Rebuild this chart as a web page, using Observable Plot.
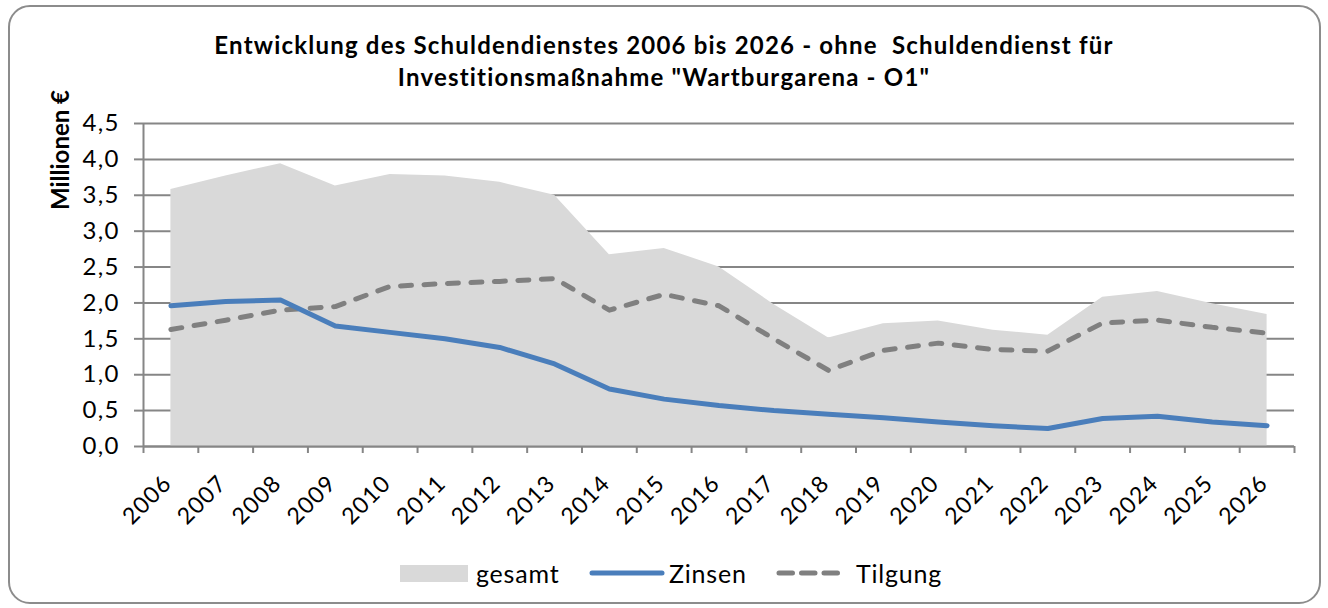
<!DOCTYPE html>
<html>
<head>
<meta charset="utf-8">
<script src="https://cdn.jsdelivr.net/npm/d3@7"></script>
<script src="https://cdn.jsdelivr.net/npm/@observablehq/plot@0.6"></script>
<style>
  html, body { margin: 0; padding: 0; background: #fff; }
  body { width: 1328px; height: 608px; position: relative; overflow: hidden; font-family: Lato, "Open Sans", sans-serif; }
  #frame { position: absolute; left: 8px; top: 5px; width: 1309px; height: 595px; border: 2px solid #8c8c8c; border-radius: 22px; box-sizing: content-box; }
  #title { position: absolute; left: 0; top: 29px; width: 1328px; text-align: center; font-weight: bold; font-size: 24px; letter-spacing: 1.2px; line-height: 32.4px; color: #000; }
  #ylabel { position: absolute; left: 59px; top: 150px; transform: translate(-50%, -50%) rotate(-90deg); font-weight: bold; font-size: 24px; white-space: nowrap; color: #000; }
  #chart { position: absolute; left: 0; top: 100px; }
  #legend { position: absolute; top: 558px; left: 0; width: 1328px; height: 30px; font-size: 25px; letter-spacing: 0.8px; color: #000; }
  .item { position: absolute; top: 0; height: 30px; display: flex; align-items: center; }
  .item svg { display: block; }
</style>
</head>
<body>
<div id="frame"></div>
<div id="title">Entwicklung des Schuldendienstes 2006 bis 2026 - ohne&nbsp; Schuldendienst für<br>Investitionsmaßnahme "Wartburgarena - O1"</div>
<div id="ylabel">Millionen €</div>
<div id="chart"></div>
<div id="legend"></div>
<script>
const years = [2006, 2007, 2008, 2009, 2010, 2011, 2012, 2013, 2014, 2015, 2016, 2017, 2018, 2019, 2020, 2021, 2022, 2023, 2024, 2025, 2026];
const gesamt = [3.58, 3.77, 3.94, 3.63, 3.79, 3.77, 3.68, 3.50, 2.67, 2.76, 2.50, 1.98, 1.51, 1.71, 1.75, 1.62, 1.55, 2.08, 2.16, 1.99, 1.84];
const zinsen = [1.96, 2.02, 2.04, 1.68, 1.59, 1.50, 1.38, 1.15, 0.80, 0.66, 0.57, 0.50, 0.45, 0.40, 0.34, 0.29, 0.25, 0.39, 0.42, 0.34, 0.29];
const tilgung = [1.63, 1.76, 1.90, 1.95, 2.23, 2.27, 2.30, 2.34, 1.90, 2.12, 1.96, 1.50, 1.06, 1.34, 1.44, 1.35, 1.33, 1.72, 1.76, 1.66, 1.58];
const yTicks = [0, 0.5, 1, 1.5, 2, 2.5, 3, 3.5, 4, 4.5];
const seriesNames = ["gesamt", "Zinsen", "Tilgung"];

const colGesamt = "#d9d9d9";
const colZinsen = "#4a7ebb";
const colTilgung = "#808080";
const axisCol = "#868686";

const data = years.map((y, i) => ({year: y, gesamt: gesamt[i], zinsen: zinsen[i], tilgung: tilgung[i]}));
const bounds = years.map(y => y - 0.5).concat([years[years.length - 1] + 0.5]);

const chart = Plot.plot({
  width: 1328,
  height: 450,
  marginLeft: 143,
  marginRight: 34,
  marginTop: 23,
  marginBottom: 104,
  style: {fontFamily: "Lato, sans-serif", fontSize: "24px", color: "#000", background: "transparent", overflow: "visible"},
  x: {domain: [bounds[0], bounds[bounds.length - 1]]},
  y: {domain: [0, 4.5]},
  marks: [
    Plot.gridY(yTicks, {stroke: axisCol, strokeOpacity: 1, strokeWidth: 2}),
    Plot.areaY(data, {x: "year", y: "gesamt", fill: colGesamt}),
    Plot.ruleX([bounds[0]], {stroke: axisCol, strokeWidth: 2}),
    Plot.ruleY([0], {stroke: axisCol, strokeWidth: 2}),
    Plot.axisY(yTicks, {tickSize: 9, tickPadding: 15, stroke: axisCol, strokeWidth: 2, tickFormat: d => d.toFixed(1).replace(".", ","), label: null, fill: "#000", fontSize: 24, style: {letterSpacing: "1.5px"}}),
    Plot.axisX(bounds, {tickSize: 7, stroke: axisCol, strokeWidth: 2, tickFormat: () => "", label: null}),
    Plot.axisX(years, {tickSize: 0, tickRotate: -45, tickPadding: 33, dx: -3, tickFormat: d => String(d), label: null, fill: "#000", fontSize: 23}),
    Plot.lineY(data, {x: "year", y: "tilgung", stroke: colTilgung, strokeWidth: 5, strokeDasharray: "11,12.5", strokeLinecap: "round", strokeLinejoin: "round"}),
    Plot.lineY(data, {x: "year", y: "zinsen", stroke: colZinsen, strokeWidth: 5, strokeLinejoin: "round"})
  ]
});
chart.querySelectorAll("text").forEach(t => { t.style.letterSpacing = "1.2px"; });
document.getElementById("chart").appendChild(chart);

// legend
const legend = document.getElementById("legend");
const items = [
  {name: seriesNames[0], left: 400, svg: `<svg width="68" height="17"><rect x="0" y="0" width="68" height="17" fill="${colGesamt}"/></svg>`, gap: 8},
  {name: seriesNames[1], left: 589, svg: `<svg width="76" height="8"><line x1="3" y1="4" x2="73" y2="4" stroke="${colZinsen}" stroke-width="5" stroke-linecap="round"/></svg>`, gap: 4},
  {name: seriesNames[2], left: 776, svg: `<svg width="69" height="8"><line x1="3" y1="4" x2="66" y2="4" stroke="${colTilgung}" stroke-width="5" stroke-dasharray="13.5,9" stroke-linecap="round"/></svg>`, gap: 11}
];
for (const it of items) {
  const d = document.createElement("div");
  d.className = "item";
  d.style.left = it.left + "px";
  d.innerHTML = it.svg + `<span style="margin-left:${it.gap}px">${it.name}</span>`;
  legend.appendChild(d);
}
</script>
</body>
</html>
